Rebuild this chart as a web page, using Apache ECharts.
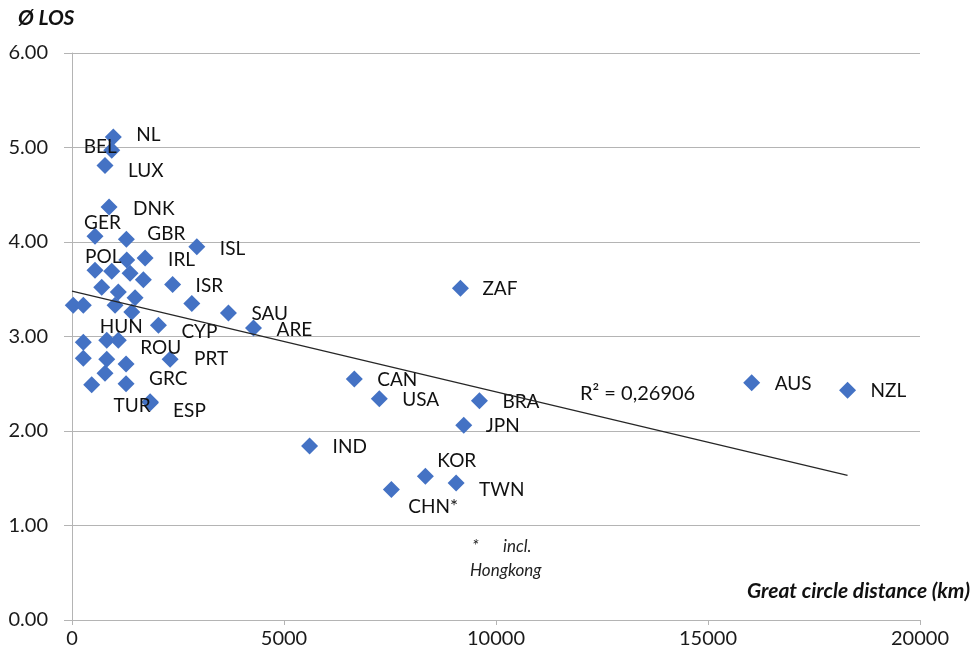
<!DOCTYPE html>
<html>
<head>
<meta charset="utf-8">
<script src="https://cdn.jsdelivr.net/npm/echarts@6/dist/echarts.min.js"></script>
<style>
  html, body { margin: 0; padding: 0; background: #fff; }
  #main { width: 975px; height: 662px; }
</style>
</head>
<body>
<div id="main"></div>
<script>
// countries (empty name = unlabelled point)
var countries = ['NL', 'BEL', 'LUX', 'DNK', 'GER', 'GBR', 'ISL', '', 'IRL', 'POL',
  '', '', '', 'ISR', '', '', '', '', 'SAU', 'ARE',
  '', '', '', '', 'CYP', 'HUN', 'ROU', '', '', '',
  '', 'PRT', '', '', 'GRC', 'ESP', 'TUR',
  'ZAF', 'CAN', 'USA', 'BRA', 'JPN', 'IND', 'KOR', 'TWN', 'CHN*', 'AUS', 'NZL'];
// great circle distance (km)
var distance = [975, 937, 779, 874, 543, 1282, 2944, 1291, 1724, 543,
  937, 1369, 1683, 2373, 701, 1093, 1487, 2826, 3690, 4281,
  30, 267, 1015, 1410, 2038, 819, 1093, 267, 267, 819,
  1275, 2314, 779, 465, 1275, 1842, 1850,
  9161, 6658, 7248, 9609, 9239, 5603, 8334, 9059, 7532, 16031, 18291];
// average length of stay
var los = [5.11, 4.97, 4.81, 4.37, 4.06, 4.03, 3.95, 3.81, 3.83, 3.70,
  3.69, 3.67, 3.60, 3.55, 3.52, 3.47, 3.41, 3.35, 3.25, 3.09,
  3.33, 3.33, 3.33, 3.26, 3.12, 2.96, 2.96, 2.94, 2.77, 2.76,
  2.71, 2.76, 2.61, 2.49, 2.50, 2.31, 2.30,
  3.51, 2.55, 2.34, 2.32, 2.06, 1.84, 1.52, 1.45, 1.38, 2.51, 2.43];

// linear trend
var trendX = [0, 18291];
var trendY = [3.48, 1.53];
var rSquared = 'R² = 0,26906';

var yTicks = [0, 1, 2, 3, 4, 5, 6];
var xTicks = [0, 5000, 10000, 15000, 20000];

// label placement relative to the diamond centre (px): [dx to text left, dy]
var labelShift = {
  'NL': [23, -2], 'BEL': [-28, -3], 'LUX': [23, 5], 'DNK': [24, 2], 'GER': [-11, -13],
  'GBR': [21, -5], 'ISL': [23, 2], 'IRL': [23, 2], 'POL': [-10, -13], 'ISR': [23, 1],
  'SAU': [23, 1], 'ARE': [23, 2], 'CYP': [23, 7], 'HUN': [-7, -13], 'ROU': [22, 8],
  'PRT': [24, 0], 'GRC': [23, -5], 'TUR': [-37, 3], 'ESP': [23, 9], 'ZAF': [22, 1],
  'CAN': [23, 1], 'USA': [23, 1], 'BRA': [23, 1], 'JPN': [22, 1], 'IND': [23, 1],
  'KOR': [12, -15], 'TWN': [23, 7], 'CHN*': [17, 17], 'AUS': [23, 1], 'NZL': [23, 1]
};

var font = 'Lato, "Open Sans", sans-serif';
var gridGrey = '#b4b4b4';
var blue = '#4472C4';

var points = [];
for (var i = 0; i < countries.length; i++) {
  points.push({
    name: countries[i],
    value: [distance[i], los[i]],
    label: { show: !!labelShift[countries[i]] }
  });
}

var chart = echarts.init(document.getElementById('main'), null, { renderer: 'canvas' });

chart.setOption({
  animation: false,
  backgroundColor: '#fff',
  textStyle: { fontFamily: font },
  grid: { left: 72, right: 55, top: 53, bottom: 42, containLabel: false },
  xAxis: {
    type: 'value',
    min: xTicks[0],
    max: xTicks[xTicks.length - 1],
    interval: 5000,
    axisLine: { show: true, lineStyle: { color: gridGrey, width: 1 } },
    axisTick: { show: true, length: 5, lineStyle: { color: gridGrey } },
    splitLine: { show: false },
    axisLabel: {
      color: '#1a1a1a', fontSize: 20, margin: 9, fontFamily: font,
      formatter: function (v) { return String(v); }
    }
  },
  yAxis: {
    type: 'value',
    min: yTicks[0],
    max: yTicks[yTicks.length - 1],
    interval: 1,
    axisLine: { show: true, lineStyle: { color: gridGrey, width: 1 } },
    axisTick: { show: true, length: 8, lineStyle: { color: gridGrey } },
    splitLine: { show: true, lineStyle: { color: gridGrey, width: 1 } },
    axisLabel: {
      color: '#1a1a1a', fontSize: 20, margin: 24, fontFamily: font,
      formatter: function (v) { return v.toFixed(2); }
    }
  },
  series: [
    {
      type: 'line',
      data: [[trendX[0], trendY[0]], [trendX[1], trendY[1]]],
      symbol: 'none',
      lineStyle: { color: '#262626', width: 1.2 },
      z: 3,
      silent: true
    },
    {
      type: 'scatter',
      data: points,
      symbol: 'diamond',
      symbolSize: 17,
      itemStyle: { color: blue, opacity: 1 },
      label: {
        show: false,
        position: 'right',
        distance: 0,
        formatter: '{b}',
        color: '#111',
        fontSize: 19,
        fontFamily: font,
        align: 'left',
        verticalAlign: 'middle'
      },
      labelLayout: function (params) {
        var sh = labelShift[countries[params.dataIndex]] || [8, 0];
        return { dx: sh[0] - 8.5, dy: sh[1], hideOverlap: false };
      },
      z: 2
    }
  ],
  graphic: [
    {
      type: 'text', left: 18, top: 8,
      style: { text: 'Ø LOS', font: 'italic bold 21px ' + font, fill: '#111' }
    },
    {
      type: 'text', right: 5, top: 581,
      style: { text: 'Great circle distance (km)', font: 'italic bold 21px ' + font, fill: '#111' }
    },
    {
      type: 'text', left: 580, top: 384,
      style: { text: rSquared, font: '20px ' + font, fill: '#111' }
    },
    {
      type: 'text', left: 472, top: 538,
      style: { text: '*', font: 'italic 17px ' + font, fill: '#222' }
    },
    {
      type: 'text', left: 503, top: 538,
      style: { text: 'incl.', font: 'italic 17px ' + font, fill: '#222' }
    },
    {
      type: 'text', left: 470, top: 562,
      style: { text: 'Hongkong', font: 'italic 17px ' + font, fill: '#222' }
    }
  ]
});
</script>
</body>
</html>
